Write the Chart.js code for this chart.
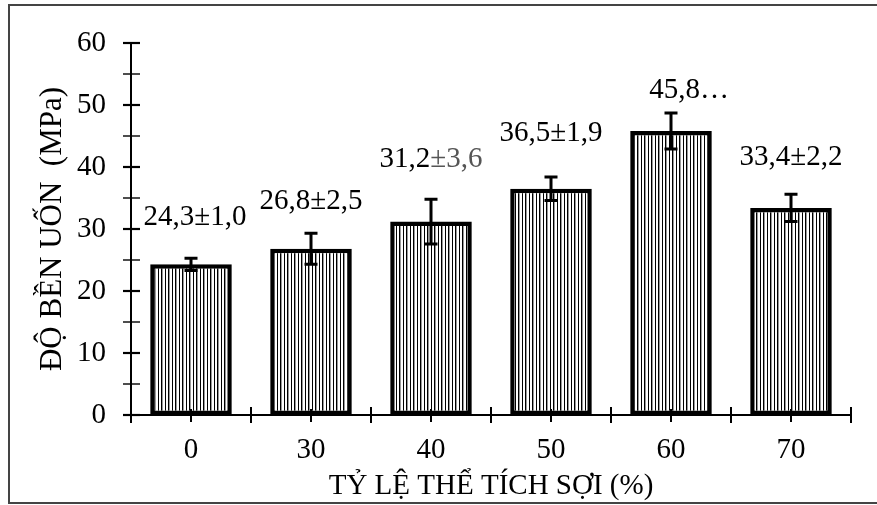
<!DOCTYPE html>
<html>
<head>
<meta charset="utf-8">
<style>
  html, body { margin: 0; padding: 0; background: #fff; }
  #wrap { position: relative; width: 877px; height: 505px; }
  canvas { display: block; }
</style>
<script src="https://cdn.jsdelivr.net/npm/chart.js@4.4.0/dist/chart.umd.min.js"></script>
</head>
<body>
<div id="wrap"><canvas id="c" width="877" height="505"></canvas></div>
<script>
// Fibre volume fraction (%) and flexural strength (MPa) with standard deviation
const categories = ['0', '30', '40', '50', '60', '70'];
const strength   = [24.3, 26.8, 31.2, 36.5, 45.8, 33.4];
const deviation  = [1.0, 2.5, 3.6, 1.9, 2.9, 2.2];
const truncated  = [false, false, false, false, true, false];
const yTickValues = [0, 10, 20, 30, 40, 50, 60];

const SERIF = '"Liberation Serif", "Times New Roman", serif';
// value-label placement: [dx, lift above the upper error cap] in px
const labelPlacement = [[4, 41], [0, 32], [0, 40], [0, 44], [18, 23], [0, 37]];
const deviationColor = ['#000', '#000', '#555', '#000', '#000', '#000'];

const fmt = v => v.toFixed(1).replace('.', ',');

// vertical-stripe hatching for the bars
function stripePattern() {
  const p = document.createElement('canvas');
  p.width = 7; p.height = 4;
  const g = p.getContext('2d');
  g.fillStyle = '#fff'; g.fillRect(0, 0, 7, 4);
  g.fillStyle = '#000';
  g.fillRect(0, 0, 1, 4);
  g.fillRect(4, 0, 1, 4);
  g.fillStyle = 'rgba(0,0,0,0.4)';
  g.fillRect(1, 0, 1, 4);
  return document.getElementById('c').getContext('2d').createPattern(p, 'repeat');
}

const framePlugin = {
  id: 'frame',
  beforeDraw(chart) {
    const ctx = chart.ctx;
    ctx.save();
    ctx.fillStyle = '#fff';
    ctx.fillRect(0, 0, chart.width, chart.height);
    ctx.strokeStyle = '#444';
    ctx.lineWidth = 2;
    ctx.beginPath();
    ctx.moveTo(chart.width + 2, 5);
    ctx.lineTo(9, 5);
    ctx.lineTo(9, 503);
    ctx.lineTo(chart.width + 2, 503);
    ctx.stroke();
    ctx.restore();
  }
};

// tick marks crossing both axes
const crossTicksPlugin = {
  id: 'crossTicks',
  afterDraw(chart) {
    const ctx = chart.ctx;
    const xs = chart.scales.x, ys = chart.scales.y;
    ctx.save();
    ctx.strokeStyle = '#000';
    ctx.lineCap = 'butt';
    const ax = ys.right;
    for (let v = 0; v <= 60; v += 5) {
      const py = ys.getPixelForValue(v);
      ctx.lineWidth = (v % 10 === 0) ? 2.2 : 1.4;
      ctx.beginPath();
      ctx.moveTo(ax - 8, py);
      ctx.lineTo(ax + 9, py);
      ctx.stroke();
    }
    const ay = xs.top;
    const step = (xs.right - xs.left) / categories.length;
    ctx.lineWidth = 2;
    for (let k = 0; k <= categories.length; k++) {
      const px = xs.left + k * step;
      ctx.beginPath();
      ctx.moveTo(px, ay - 8);
      ctx.lineTo(px, ay + 8);
      ctx.stroke();
    }
    for (let i = 0; i < categories.length; i++) {
      const px = xs.getPixelForValue(i);
      ctx.beginPath();
      ctx.moveTo(px, ay - 6);
      ctx.lineTo(px, ay + 7);
      ctx.stroke();
    }
    ctx.restore();
  }
};

// error bars and value labels
const errorLabelPlugin = {
  id: 'errorLabels',
  afterDatasetsDraw(chart) {
    const ctx = chart.ctx;
    const xs = chart.scales.x, ys = chart.scales.y;
    ctx.save();
    ctx.strokeStyle = '#000';
    ctx.lineCap = 'butt';
    strength.forEach((v, i) => {
      const cx = xs.getPixelForValue(i);
      const top = ys.getPixelForValue(v + deviation[i]);
      const bot = ys.getPixelForValue(v - deviation[i]);
      ctx.lineWidth = 3;
      ctx.beginPath();
      ctx.moveTo(cx, top); ctx.lineTo(cx, bot);
      ctx.moveTo(cx - 6.5, top); ctx.lineTo(cx + 6.5, top);
      ctx.moveTo(cx - 6.5, bot); ctx.lineTo(cx + 6.5, bot);
      ctx.stroke();
    });
    ctx.font = '29px ' + SERIF;
    ctx.textBaseline = 'middle';
    ctx.textAlign = 'left';
    strength.forEach((v, i) => {
      const [dx, lift] = labelPlacement[i];
      const cx = xs.getPixelForValue(i) + dx;
      const y = ys.getPixelForValue(v + deviation[i]) - lift;
      const head = fmt(v);
      const tail = truncated[i] ? '…' : '±' + fmt(deviation[i]);
      const w1 = ctx.measureText(head).width;
      const w2 = ctx.measureText(tail).width;
      const x0 = cx - (w1 + w2) / 2;
      ctx.fillStyle = '#000';
      ctx.fillText(head, x0, y);
      ctx.fillStyle = truncated[i] ? '#000' : deviationColor[i];
      ctx.fillText(tail, x0 + w1, y);
    });
    ctx.restore();
  }
};

new Chart(document.getElementById('c'), {
  type: 'bar',
  data: {
    labels: categories,
    datasets: [{
      data: strength,
      backgroundColor: stripePattern(),
      borderColor: '#000',
      borderWidth: 4.5,
      borderSkipped: false,
      barPercentage: 0.68,
      categoryPercentage: 1.0
    }]
  },
  options: {
    responsive: false,
    animation: false,
    devicePixelRatio: 1,
    layout: { padding: { left: 0, right: 26, top: 43, bottom: 0 } },
    plugins: { legend: { display: false }, tooltip: { enabled: false } },
    scales: {
      x: {
        grid: { display: false, drawTicks: false },
        border: { display: true, color: '#000', width: 2 },
        ticks: { font: { family: SERIF, size: 29 }, color: '#000', padding: 18 },
        title: {
          display: true, text: 'TỶ LỆ THỂ TÍCH SỢI (%)',
          font: { family: SERIF, size: 29 }, color: '#000',
          padding: { top: 0, bottom: 1 }
        },
        afterFit(s) { s.height = 90; }
      },
      y: {
        min: 0, max: 60,
        grid: { display: false, drawTicks: false },
        border: { display: true, color: '#000', width: 2 },
        afterBuildTicks(s) { s.ticks = yTickValues.map(v => ({ value: v })); },
        ticks: { font: { family: SERIF, size: 29 }, color: '#000', padding: 25 },
        title: {
          display: true, text: 'ĐỘ BỀN UỐN  (MPa)',
          font: { family: SERIF, size: 31 }, color: '#000',
          padding: { top: 34, bottom: 0 }
        },
        afterFit(s) { s.width = 131; }
      }
    }
  },
  plugins: [framePlugin, crossTicksPlugin, errorLabelPlugin]
});
</script>
</body>
</html>
